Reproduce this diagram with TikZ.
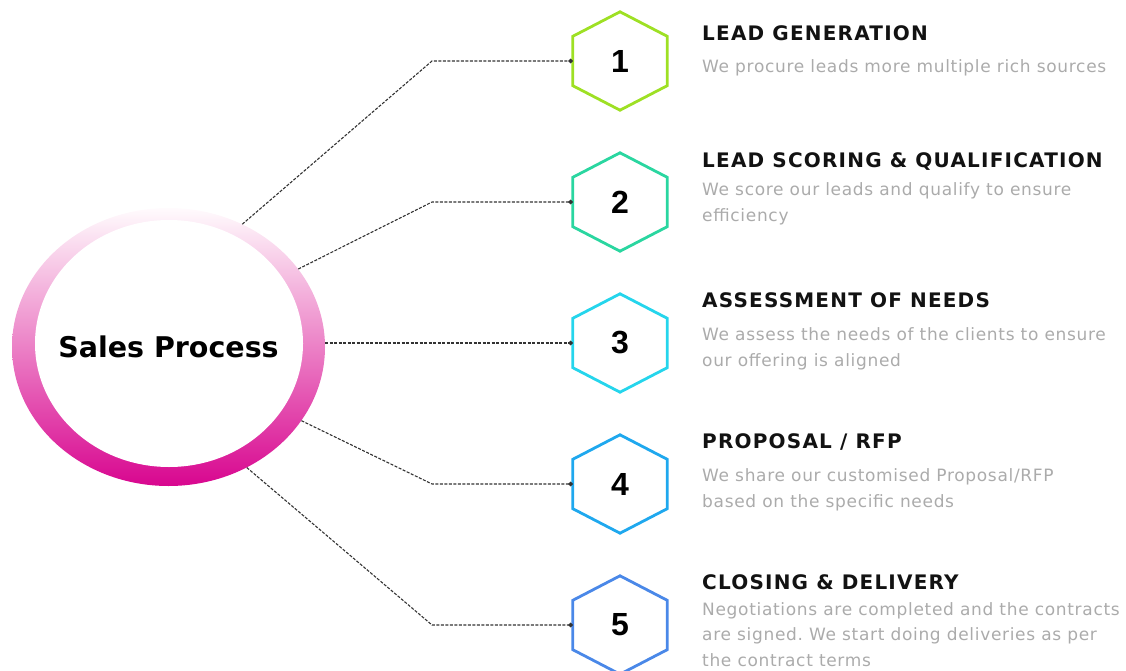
\documentclass[tikz,border=0pt]{standalone}
\usepackage{fontspec}
\setmainfont{Liberation Sans}
\newfontfamily\headfont[LetterSpace=6.0]{DejaVu Sans}
\newfontfamily\bodyfont[LetterSpace=4.0]{DejaVu Sans}
\newfontfamily\titlefont{DejaVu Sans}
\usetikzlibrary{arrows.meta,calc,shapes.geometric}
\frenchspacing
\definecolor{cA}{HTML}{9EE024}
\definecolor{cB}{HTML}{2AD6A0}
\definecolor{cC}{HTML}{25D5EC}
\definecolor{cD}{HTML}{1FA8EE}
\definecolor{cE}{HTML}{4A88E8}
\definecolor{pTop}{HTML}{FFFBFD}
\definecolor{pMid}{HTML}{F1B0DB}
\definecolor{pBot}{HTML}{D8068F}
\definecolor{bodygrey}{HTML}{ABABAB}
\definecolor{conncol}{HTML}{333333}
\tikzset{
  hexnum/.style={minimum width=94pt, minimum height=49pt, inner sep=0pt,
    font=\bfseries\fontsize{32}{32}\selectfont},
  hexline/.style={line width=2.8pt, line join=miter},
  conn/.style={conncol, line width=1.1pt, dash pattern=on 3pt off 1.5pt,
    -{Circle[length=4.5pt]}},
  head/.style={anchor=base west, inner sep=0pt,
    font=\headfont\bfseries\fontsize{20}{22}\selectfont, text=black!93},
  body/.style={anchor=base west, inner sep=0pt,
    font=\bodyfont\fontsize{17}{25.5}\selectfont, text=bodygrey}
}
\newcommand\drawhex[2]{%
  \draw[hexline,#2] (#1.north west) -- ($(#1.north)+(0,-24.5)$) -- (#1.north east)
    -- (#1.south east) -- ($(#1.south)+(0,24.5)$) -- (#1.south west) -- cycle;}
\begin{document}
\begin{tikzpicture}[x=1pt,y=-1pt]
\useasboundingbox (0,0) rectangle (1126,671);
% ring
\shade[top color=pTop, middle color=pMid, bottom color=pBot]
  (168.5,347) ellipse [x radius=156.5pt, y radius=139pt];
\fill[white] (169,343.5) ellipse [x radius=134pt, y radius=123.5pt];
\node[ellipse, minimum width=313pt, minimum height=278pt, inner sep=0pt,
  font=\titlefont\bfseries\fontsize{28.5}{30}\selectfont] (sp) at (168.5,347) {Sales Process};
% hexagons
\node[hexnum] (h1) at (620,61) {1};
\node[hexnum] (h2) at (620,202) {2};
\node[hexnum] (h3) at (620,343) {3};
\node[hexnum] (h4) at (620,484) {4};
\node[hexnum] (h5) at (620,625) {5};
\drawhex{h1}{cA}
\drawhex{h2}{cB}
\drawhex{h3}{cC}
\drawhex{h4}{cD}
\drawhex{h5}{cE}
% connectors
\coordinate (b1) at (432,61);
\coordinate (b2) at (432,202);
\coordinate (b4) at (432,484);
\coordinate (b5) at (432,625);
\draw[conn] (sp.59) -- (b1) -- (h1.west);
\draw[conn] (sp.31) -- (b2) -- (h2.west);
\draw[conn] (h3.west -| sp.east) -- (h3.west);
\draw[conn] (sp.-29) -- (b4) -- (h4.west);
\draw[conn] (sp.-57) -- (b5) -- (h5.west);
% texts
\node[head] (t1) at (702,40.7) {LEAD GENERATION};
\node[body] (d1) at (702,73) {\parbox[t]{430pt}{We procure leads more multiple rich sources}};
\node[head] (t2) at (702,167.3) {LEAD SCORING \& QUALIFICATION};
\node[body] (d2) at (702,196) {\parbox[t]{430pt}{We score our leads and qualify to ensure\\efficiency}};
\node[head] (t3) at (702,307.5) {ASSESSMENT OF NEEDS};
\node[body] (d3) at (702,340.5) {\parbox[t]{430pt}{We assess the needs of the clients to ensure\\our offering is aligned}};
\node[head] (t4) at (702,448.5) {PROPOSAL / RFP};
\node[body] (d4) at (702,481.5) {\parbox[t]{430pt}{We share our customised Proposal/RFP\\based on the specific needs}};
\node[head] (t5) at (702,589.3) {CLOSING \& DELIVERY};
\node[body] (d5) at (702,615) {\parbox[t]{440pt}{Negotiations are completed and the contracts\\are signed. We start doing deliveries as per\\the contract terms}};
\end{tikzpicture}
\end{document}
